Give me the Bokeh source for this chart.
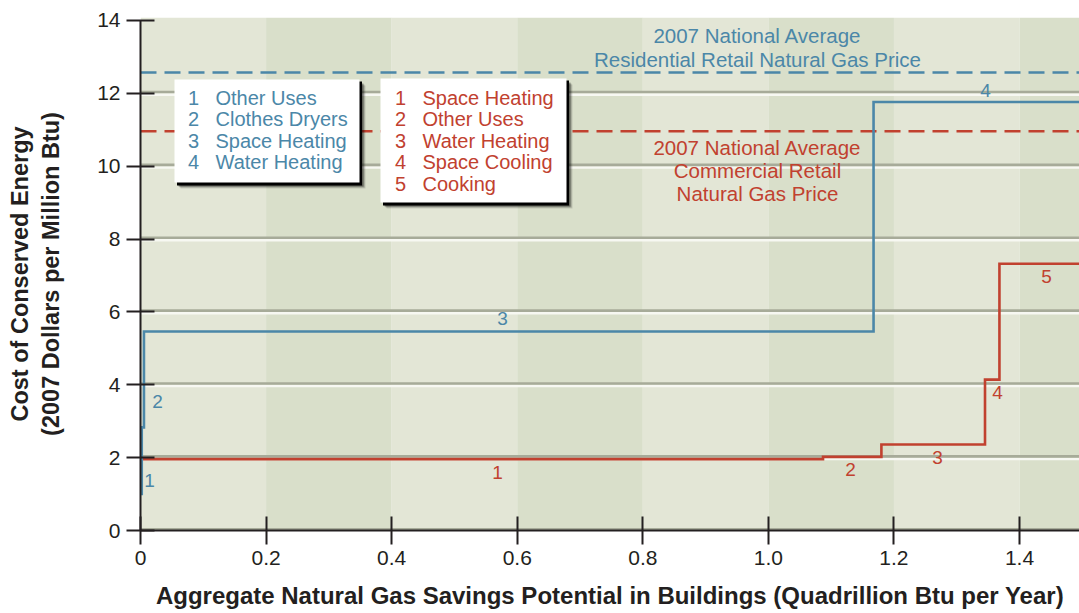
import numpy as np
from bokeh.plotting import figure
from bokeh.models import FixedTicker
from bokeh.core.properties import value
from bokeh.embed import file_html
from bokeh.resources import INLINE

# ---------------- data ----------------
res_uses = ["Other Uses", "Clothes Dryers", "Space Heating", "Water Heating"]
res_savings = [0.002, 0.0035, 1.162, 0.333]        # quads per year (segment widths)
res_cost = [1.00, 2.83, 5.46, 11.76]               # $/MBtu

com_uses = ["Space Heating", "Other Uses", "Water Heating", "Space Cooling", "Cooking"]
com_savings = [1.087, 0.093, 0.165, 0.023, 0.132]
com_cost = [1.96, 2.02, 2.36, 4.14, 7.32]

res_price = 12.57
com_price = 10.96
res_price_text = ["2007 National Average", "Residential Retail Natural Gas Price"]
com_price_text = ["2007 National Average", "Commercial Retail", "Natural Gas Price"]

x_ticks = [0, 0.2, 0.4, 0.6, 0.8, 1.0, 1.2, 1.4]
x_tick_labels = ["0", "0.2", "0.4", "0.6", "0.8", "1.0", "1.2", "1.4"]
y_ticks = [0, 2, 4, 6, 8, 10, 12, 14]
y_tick_labels = ["0", "2", "4", "6", "8", "10", "12", "14"]

# ---------------- style ----------------
FONT = "Liberation Sans"
BLUE = "#4b87a8"
RED = "#c1412f"
BLACK = "#231f20"
BAND_LIGHT = "#e3e6d6"
BAND_DARK = "#d9dfca"
GRID_GRAY = "#a7ab99"
GRID_WHITE = "#f7f8f2"

X0, X1 = 0.0, 1.4955
Y0, Y1 = 0.0, 14.08

# frame geometry (px) for placing annotations
FL, FR, FT, FB = 140, 1079, 17, 530
def dx(px):
    return X0 + (px - FL) / (FR - FL) * (X1 - X0)
def dy(py):
    return Y0 + (FB - py) / (FB - FT) * (Y1 - Y0)
def ddy(px):
    return px / (FB - FT) * (Y1 - Y0)

p = figure(width=1079, height=613, x_range=(X0, X1), y_range=(Y0, Y1),
           output_backend="svg", toolbar_location=None,
           min_border_left=FL, min_border_right=0, min_border_top=FT, min_border_bottom=613 - FB)
p.outline_line_color = None
p.background_fill_color = "white"
p.border_fill_color = "white"
p.xgrid.visible = False
p.ygrid.visible = False

# background bands every 0.2
edges = np.round(np.arange(0, 1.8, 0.2), 2)
lefts = edges[:-1]
rights = edges[1:]
band_colors = [BAND_LIGHT if i % 2 == 0 else BAND_DARK for i in range(len(lefts))]
p.quad(left=lefts, right=rights, bottom=Y0, top=Y1, fill_color=band_colors, line_color=None)

# embossed grid lines
gy = np.array(y_ticks[:-1], dtype=float)
p.segment(x0=X0, x1=1.6, y0=gy - ddy(1.3), y1=gy - ddy(1.3), line_color=GRID_WHITE, line_width=2.6)
p.segment(x0=X0, x1=1.6, y0=gy + ddy(1.3), y1=gy + ddy(1.3), line_color=GRID_GRAY, line_width=2.6)

# price reference lines
p.line([X0, 1.6], [res_price, res_price], line_color=BLUE, line_width=2.5, line_dash="16 8")
p.line([X0, 1.6], [com_price, com_price], line_color=RED, line_width=2.5, line_dash="16 8")

def step_xy(widths, costs):
    e = np.concatenate([[0.0], np.cumsum(widths)])
    xs, ys = [], []
    for i, c in enumerate(costs):
        xs += [e[i], e[i + 1]]
        ys += [c, c]
    return xs, ys

cx, cy = step_xy(com_savings, com_cost)
p.line(cx, cy, line_color=RED, line_width=2.6, line_join="miter")
rx, ry = step_xy(res_savings, res_cost)
p.line(rx, ry, line_color=BLUE, line_width=2.6, line_join="miter")

# step number labels
def nums(n):
    return [str(i + 1) for i in range(n)]
res_lbl_px = [(149, 480), (157, 401), (502, 318), (985, 90)]
com_lbl_px = [(497, 472), (850, 469), (937, 457), (997, 392), (1046, 276)]
p.text(x=[dx(a) for a, b in res_lbl_px], y=[dy(b) for a, b in res_lbl_px], text=nums(len(res_uses)),
       text_color=BLUE, text_font=value(FONT), text_font_size="19px",
       text_align="center", text_baseline="middle")
p.text(x=[dx(a) for a, b in com_lbl_px], y=[dy(b) for a, b in com_lbl_px], text=nums(len(com_uses)),
       text_color=RED, text_font=value(FONT), text_font_size="19px",
       text_align="center", text_baseline="middle")

# price annotations
p.text(x=[dx(757)] * 2, y=[dy(35), dy(58.5)], text=res_price_text, text_color=BLUE,
       text_font=value(FONT), text_font_size="20.5px", text_align="center", text_baseline="middle")
p.text(x=[dx(757)] * 3, y=[dy(146.5), dy(170), dy(193)], text=com_price_text, text_color=RED,
       text_font=value(FONT), text_font_size="20.5px", text_align="center", text_baseline="middle")

# legend boxes with drop shadow
def legend_box(l, t, r, b, names, color, num_x, name_x, y_first, y_step):
    for off, a in [(6, 0.12), (5, 0.2), (4, 0.35)]:
        p.quad(left=dx(l + off), right=dx(r + off), top=dy(t + off), bottom=dy(b + off),
               fill_color="black", fill_alpha=a, line_color=None)
    p.quad(left=dx(l + 2.5), right=dx(r + 2.5), top=dy(t + 2), bottom=dy(b + 3),
           fill_color="black", line_color=None)
    p.quad(left=dx(l), right=dx(r), top=dy(t), bottom=dy(b), fill_color="white", line_color=None)
    ys = [dy(y_first + i * y_step) for i in range(len(names))]
    p.text(x=[dx(num_x)] * len(names), y=ys, text=nums(len(names)), text_color=color,
           text_font=value(FONT), text_font_size="20px", text_align="center", text_baseline="middle")
    p.text(x=[dx(name_x)] * len(names), y=ys, text=names, text_color=color,
           text_font=value(FONT), text_font_size="20px", text_align="left", text_baseline="middle")

legend_box(174, 79, 359, 182, res_uses, BLUE, 193, 215, 97, 21.5)
legend_box(380, 78, 566, 202, com_uses, RED, 400, 422, 97, 21.5)

# axes
for ax in (p.xaxis[0], p.yaxis[0]):
    ax.axis_line_color = BLACK
    ax.axis_line_width = 2
    ax.major_tick_line_color = BLACK
    ax.major_tick_line_width = 2
    ax.major_tick_in = 14
    ax.major_tick_out = 14
    ax.minor_tick_line_color = None
    ax.major_label_text_font = FONT
    ax.major_label_text_font_size = "21px"
    ax.major_label_text_color = BLACK
    ax.axis_label_text_font = FONT
    ax.axis_label_text_font_style = "bold"
    ax.axis_label_text_color = BLACK

p.xaxis.ticker = FixedTicker(ticks=x_ticks)
p.xaxis.major_label_overrides = {t: s for t, s in zip(x_ticks, x_tick_labels)}
p.xaxis.bounds = (0, 1.6)
p.xaxis.major_label_standoff = 6
p.xaxis.axis_label = "Aggregate Natural Gas Savings Potential in Buildings (Quadrillion Btu per Year)"
p.xaxis.axis_label_text_font_size = "24px"
p.xaxis.axis_label_standoff = 14

p.yaxis.ticker = FixedTicker(ticks=y_ticks)
p.yaxis.major_label_overrides = {t: s for t, s in zip(y_ticks, y_tick_labels)}
p.yaxis.bounds = (0, 14)
p.yaxis.major_label_standoff = 6
p.yaxis.axis_label = "Cost of Conserved Energy\n(2007 Dollars per Million Btu)"
p.yaxis.axis_label_text_font_size = "23.5px"
p.yaxis.axis_label_standoff = 30

open("out.html", "w").write(file_html(p, INLINE))
